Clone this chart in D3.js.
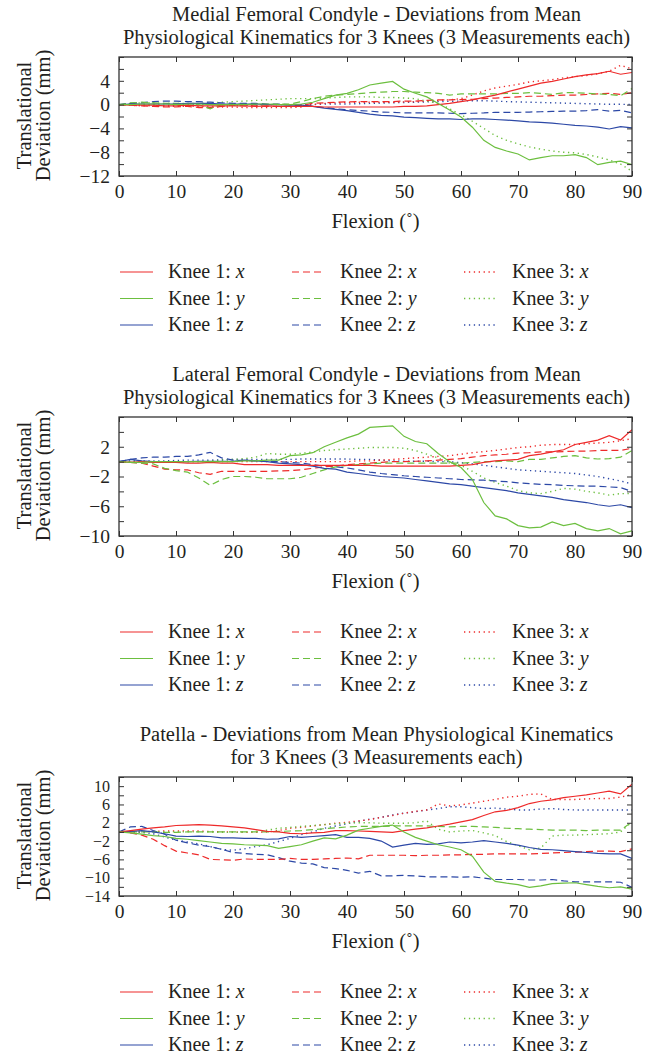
<!DOCTYPE html>
<html>
<head>
<meta charset="utf-8">
<script src="https://cdn.jsdelivr.net/npm/d3@7"></script>
<style>
  body { margin: 0; background: #fff; }
  text { font-family: "Liberation Serif", "Times New Roman", serif; fill: #231f20; }
</style>
</head>
<body>
<div id="chart"></div>
<script>
var flexion = [0, 2, 4, 6, 8, 10, 12, 14, 16, 18, 20, 22, 24, 26, 28, 30, 32, 34, 36, 38,
  40, 42, 44, 46, 48, 50, 52, 54, 56, 58, 60, 62, 64, 66, 68, 70, 72, 74, 76, 78,
  80, 82, 84, 86, 88, 90];

// ---- Medial femoral condyle ----
var medK1x = [0, -0.1, -0.1, -0.1, -0.2, -0.2, -0.1, -0.2, -0.2, -0.2,
  -0.2, -0.2, -0.3, -0.2, -0.3, -0.3, -0.3, -0.3, -0.4, -0.4,
  -0.4, -0.4, -0.4, -0.4, -0.4, -0.3, -0.3, -0.2, 0, 0.2,
  0.5, 0.8, 1.2, 1.6, 2.1, 2.6, 3.1, 3.6, 3.9, 4.3,
  4.7, 5.0, 5.2, 5.6, 5.1, 5.4];
var medK2x = [0, -0.1, -0.2, -0.3, -0.4, -0.4, -0.3, -0.5, -0.5, -0.3,
  -0.1, -0.2, -0.2, -0.3, -0.3, -0.3, -0.1, 0.2, 0.3, 0.4,
  0.45, 0.5, 0.5, 0.5, 0.5, 0.6, 0.6, 0.7, 0.8, 0.8,
  0.85, 0.9, 1.0, 1.1, 1.2, 1.3, 1.4, 1.4, 1.5, 1.6,
  1.6, 1.7, 1.8, 1.9, 1.7, 2.0];
var medK3x = [0, -0.1, -0.2, -0.2, -0.3, -0.3, -0.3, -0.3, -0.4, -0.4,
  -0.4, -0.5, -0.5, -0.5, -0.5, -0.5, -0.4, 0, 0.2, 0.3,
  0.35, 0.4, 0.4, 0.4, 0.4, 0.45, 0.5, 0.6, 0.7, 0.8,
  1.0, 1.6, 2.3, 2.8, 3.1, 3.4, 3.8, 4.0, 4.2, 4.5,
  4.7, 4.9, 5.2, 5.6, 6.6, 6.0];
var medK1y = [0, 0, 0.1, 0.1, 0.1, 0, 0.1, 0.1, 0, 0,
  0, 0, 0.1, 0.1, 0, 0, 0.1, 0.4, 1.0, 1.6,
  1.9, 2.5, 3.3, 3.6, 3.9, 2.6, 1.9, 1.3, 0.2, -0.9,
  -2.1, -3.8, -6.0, -7.2, -7.8, -8.3, -9.3, -8.9, -8.6, -8.6,
  -8.4, -8.9, -10.1, -9.7, -9.5, -10.1];
var medK2y = [0, 0.3, 0.4, 0.3, 0.2, 0.2, 0.1, 0, -0.7, 0,
  0.1, 0.1, 0, 0, 0.1, 0.1, 0.5, 1.0, 1.4, 1.6,
  1.7, 1.85, 2.0, 2.1, 2.2, 2.2, 2.1, 2.0, 1.9, 1.6,
  1.8, 1.8, 1.8, 1.8, 1.9, 1.9, 2.0, 1.9, 1.7, 2.0,
  2.0, 1.9, 1.8, 1.7, 1.5, 2.7];
var medK3y = [0, 0.2, 0.3, 0.3, 0.2, 0.2, 0.2, 0.2, 0.3, 0.4,
  0.5, 0.6, 0.7, 0.8, 0.9, 1.0, 1.0, 1.0, 1.1, 1.2,
  1.3, 1.3, 1.3, 1.2, 1.2, 1.1, 1.0, 0.6, 0.2, -0.7,
  -1.7, -2.8, -4.0, -5.2, -6.0, -6.6, -7.1, -7.5, -7.8, -8.0,
  -8.1, -8.4, -8.8, -9.3, -10.0, -11.2];
var medK1z = [0, 0.1, 0.1, 0.1, 0.1, 0.1, 0.2, 0.2, 0.2, 0.1,
  0.1, 0.1, 0.1, 0, 0, -0.1, -0.1, -0.3, -0.6, -0.8,
  -1.0, -1.3, -1.6, -1.8, -1.9, -2.1, -2.2, -2.3, -2.4, -2.4,
  -2.5, -2.4, -2.4, -2.5, -2.6, -2.75, -2.9, -3.0, -3.1, -3.3,
  -3.5, -3.6, -3.8, -4.1, -3.7, -3.9];
var medK2z = [0, 0.2, 0.3, 0.5, 0.6, 0.6, 0.5, 0.5, 0.4, 0.3,
  0.2, 0.2, 0.2, 0.1, 0.1, 0, -0.1, -0.3, -0.5, -0.7,
  -0.85, -1.0, -1.1, -1.25, -1.3, -1.4, -1.4, -1.4, -1.4, -1.45,
  -1.5, -1.45, -1.4, -1.3, -1.3, -1.3, -1.25, -1.2, -1.15, -1.1,
  -1.1, -1.0, -0.85, -1.1, -0.95, -1.4];
var medK3z = [0, 0, 0, 0, -0.1, -0.1, 0, 0, 0, 0,
  -0.1, -0.1, -0.1, 0, 0, 0, 0, 0, 0.1, 0.1,
  0.1, 0.15, 0.2, 0.25, 0.3, 0.35, 0.4, 0.45, 0.5, 0.55,
  0.6, 0.65, 0.65, 0.6, 0.5, 0.45, 0.4, 0.35, 0.3, 0.25,
  0.2, 0.15, 0.1, 0.05, 0.05, 0];

// ---- Lateral femoral condyle ----
var latK1x = [0, -0.1, 0, -0.1, -0.1, -0.1, -0.2, -0.2, -0.1, -0.2,
  -0.2, -0.4, -0.4, -0.4, -0.5, -0.5, -0.5, -0.5, -0.5, -0.5,
  -0.5, -0.5, -0.5, -0.6, -0.6, -0.6, -0.6, -0.6, -0.6, -0.6,
  -0.5, -0.4, -0.1, 0.1, 0.2, 0.3, 0.8, 1.0, 1.3, 1.6,
  2.3, 2.6, 2.9, 3.5, 2.9, 4.3];
var latK2x = [0, -0.1, -0.2, -0.6, -1.0, -1.1, -1.1, -1.5, -1.7, -1.3,
  -1.3, -1.3, -1.3, -1.3, -1.25, -1.2, -1.1, -0.9, -0.7, -0.6,
  -0.4, -0.3, -0.2, -0.1, 0, 0, 0.05, 0.1, 0.2, 0.3,
  0.4, 0.6, 0.8, 0.9, 1.0, 1.15, 1.2, 1.3, 1.3, 1.35,
  1.4, 1.4, 1.5, 1.5, 1.5, 1.8];
var latK3x = [0, 0, 0, -0.1, -0.1, 0, 0, 0, 0, 0,
  0, 0, 0, 0, 0, 0, 0, 0, 0, 0,
  0, 0.1, 0.1, 0.2, 0.3, 0.4, 0.5, 0.6, 0.7, 0.8,
  1.0, 1.2, 1.35, 1.5, 1.7, 1.9, 2.0, 2.2, 2.3, 2.3,
  2.3, 2.4, 2.5, 2.6, 2.8, 3.1];
var latK1y = [0, -0.1, -0.1, 0, 0, 0, 0, 0, 0, 0,
  0, 0.1, 0.1, 0.2, 0.2, 0.8, 0.9, 1.2, 2.0, 2.6,
  3.2, 3.7, 4.6, 4.7, 4.8, 3.4, 2.7, 2.4, 1.1, 0,
  -0.8, -2.4, -5.5, -7.3, -7.7, -8.6, -8.9, -8.8, -8.1, -8.6,
  -8.3, -9.0, -9.3, -9.0, -9.7, -9.3];
var latK2y = [0, -0.1, -0.2, -0.3, -0.9, -1.2, -1.4, -2.2, -3.2, -2.4,
  -2.0, -2.0, -2.1, -2.3, -2.3, -2.3, -2.1, -1.6, -1.1, -0.7,
  -0.5, -0.4, -0.3, -0.2, -0.2, -0.2, -0.2, -0.2, -0.2, -0.2,
  -0.2, -0.1, 0, 0, 0.1, 0, 0.3, 0.3, 0.5, 0.7,
  0.8, 0.5, 0.35, 0.4, 0.6, 1.5];
var latK3y = [0, 0, 0, 0, 0, 0, 0, 0, 0.1, 0.2,
  0.3, 0.4, 0.6, 1.1, 1.0, 1.0, 1.1, 1.3, 1.5, 1.6,
  1.7, 1.8, 1.9, 1.9, 1.9, 1.8, 1.5, 1.0, 0.5, -0.2,
  -0.5, -1.3, -2.2, -2.8, -3.3, -3.9, -4.2, -4.3, -4.0, -3.6,
  -3.7, -4.0, -4.2, -4.5, -4.3, -4.3];
var latK1z = [0, 0.3, 0.1, 0, 0, 0, 0, 0.05, 0.05, 0.05,
  0.05, 0.2, 0.1, 0, -0.2, -0.3, -0.4, -0.6, -0.9, -1.0,
  -1.4, -1.6, -1.8, -2.0, -2.1, -2.2, -2.4, -2.6, -2.8, -3.0,
  -3.1, -3.3, -3.5, -3.7, -3.9, -4.2, -4.4, -4.6, -4.8, -5.1,
  -5.3, -5.5, -5.8, -6.0, -5.8, -6.2];
var latK2z = [0, 0.3, 0.5, 0.6, 0.6, 0.7, 0.7, 0.9, 1.25, 0.5,
  0.2, 0.15, 0.1, 0.05, 0, -0.1, -0.2, -0.4, -0.6, -0.7,
  -0.85, -1.1, -1.4, -1.6, -1.75, -1.9, -2.0, -2.1, -2.2, -2.3,
  -2.4, -2.45, -2.5, -2.6, -2.7, -2.85, -2.95, -3.05, -3.1, -3.2,
  -3.25, -3.3, -3.3, -3.4, -3.5, -4.0];
var latK3z = [0, 0.1, 0.1, 0.1, 0.1, 0.15, 0.2, 0.2, 0.2, 0.25,
  0.3, 0.3, 0.3, 0.3, 0.3, 0.3, 0.35, 0.35, 0.35, 0.35,
  0.35, 0.3, 0.3, 0.2, 0.1, 0.05, 0.05, 0.05, 0, 0,
  -0.15, -0.3, -0.5, -0.7, -0.9, -1.1, -1.2, -1.3, -1.4, -1.5,
  -1.6, -1.8, -2.0, -2.3, -2.6, -3.0];

// ---- Patella ----
var patK1x = [0, 0.3, 0.6, 0.9, 1.1, 1.4, 1.5, 1.6, 1.5, 1.3,
  1.1, 0.9, 0.5, 0.1, 0, -0.3, -0.4, -0.2, -0.1, 0.3,
  0.3, 0.2, 0.1, 0, -0.1, 0.3, 0.6, 0.9, 1.3, 1.7,
  2.2, 2.7, 3.6, 4.4, 4.7, 5.3, 6.2, 6.7, 7.0, 7.5,
  7.8, 8.1, 8.5, 8.9, 8.3, 10.4];
var patK2x = [0, -0.2, -0.7, -1.6, -3.0, -4.2, -4.6, -5.0, -6.0, -6.1,
  -6.2, -5.9, -6.0, -6.0, -6.0, -5.8, -6.0, -6.0, -5.9, -5.8,
  -5.7, -5.9, -5.1, -5.1, -5.1, -5.1, -5.2, -5.1, -5.1, -5.0,
  -5.0, -4.9, -4.9, -4.8, -4.8, -4.8, -4.8, -4.7, -4.6, -4.5,
  -4.4, -4.3, -4.2, -4.2, -4.3, -3.7];
var patK3x = [0, 0, 0.1, 0.1, 0.2, 0.2, 0.2, 0.2, 0.1, 0,
  0, -0.1, -0.1, 0, 0.3, 0.8, 1.0, 1.3, 1.6, 1.9,
  2.1, 2.4, 2.7, 3.2, 3.6, 4.1, 4.5, 4.8, 6.1, 5.7,
  5.9, 6.3, 6.7, 7.1, 7.6, 7.8, 8.2, 8.3, 7.1, 7.1,
  7.1, 7.2, 7.3, 7.3, 7.6, 8.2];
var patK1y = [0, -0.2, -0.5, -0.8, -1.0, -1.4, -1.6, -1.9, -2.2, -2.5,
  -2.6, -2.8, -2.9, -3.0, -3.6, -3.2, -2.8, -2.0, -1.3, -1.5,
  -0.7, 0.4, 0.8, 1.2, 1.5, 0, -1.2, -2.0, -2.8, -3.3,
  -3.9, -5.3, -8.8, -10.8, -11.2, -11.5, -12.1, -11.8, -11.3, -11.2,
  -11.1, -11.5, -11.9, -12.2, -12.0, -12.5];
var patK2y = [0, 0, 0, 0, -0.1, -0.1, 0, 0, 0, 0,
  0, 0, 0, 0, 0.1, 0.2, 0.3, 0.5, 0.7, 0.9,
  1.1, 1.2, 1.2, 1.2, 1.3, 1.3, 1.3, 1.3, 1.2, 1.1,
  1.2, 1.2, 1.1, 1.0, 0.8, 0.7, 0.6, 0.5, 0.4, 0.4,
  0.4, 0.3, 0.4, 0.4, 0.4, 2.2];
var patK3y = [0, 0, 0, 0, 0, 0, 0, 0, 0, -0.1,
  -0.1, 0, 0.1, 0.4, 0.8, 1.0, 1.2, 1.4, 1.6, 1.8,
  1.9, 2.0, 2.0, 1.9, 1.9, 1.9, 2.0, 2.4, 0.6, 0,
  0.2, 0.3, -0.2, -0.8, -2.1, -3.0, -3.9, -3.5, -0.9, -0.7,
  -0.7, -0.6, -0.5, -0.4, 0, 2.2];
var patK1z = [0, 0.1, 0.3, 0, -0.4, -0.9, -1.0, -0.9, -1.0, -1.3,
  -1.3, -1.4, -1.4, -1.6, -1.5, -1.0, -1.2, -1.0, -0.8, -0.6,
  -1.2, -1.2, -1.4, -2.0, -3.3, -2.9, -2.5, -2.7, -2.6, -2.2,
  -2.4, -2.2, -1.9, -2.2, -2.5, -2.9, -3.4, -3.8, -3.9, -4.1,
  -4.3, -4.5, -4.7, -4.8, -4.8, -5.8];
var patK2z = [0, 1.1, 1.2, 0.3, -0.5, -1.8, -2.4, -2.9, -3.2, -3.8,
  -4.5, -4.7, -4.9, -5.0, -5.6, -6.4, -6.8, -7.0, -7.8, -8.0,
  -8.4, -9.0, -8.6, -9.6, -9.6, -9.5, -9.6, -9.8, -9.8, -9.8,
  -9.9, -9.8, -10.1, -10.4, -10.4, -10.4, -10.5, -10.5, -10.4, -10.7,
  -10.9, -10.9, -10.9, -10.9, -11.0, -12.1];
var patK3z = [0, 0, -0.1, -0.4, -1.1, -1.8, -2.2, -2.6, -3.2, -3.8,
  -4.0, -3.7, -3.2, -2.8, -2.1, -1.4, -0.6, 0, 0.8, 1.3,
  1.8, 2.3, 2.8, 3.2, 3.7, 4.1, 4.4, 4.8, 5.1, 5.5,
  5.5, 5.3, 5.1, 5.2, 5.0, 4.8, 4.8, 5.0, 5.1, 4.9,
  4.8, 4.8, 4.8, 4.8, 4.8, 4.8];

// titles, axes
var medTitle = ["Medial Femoral Condyle - Deviations from Mean",
  "Physiological Kinematics for 3 Knees (3 Measurements each)"];
var latTitle = ["Lateral Femoral Condyle - Deviations from Mean",
  "Physiological Kinematics for 3 Knees (3 Measurements each)"];
var patTitle = ["Patella - Deviations from Mean Physiological Kinematics",
  "for 3 Knees (3 Measurements each)"];

var xTicks = [0, 10, 20, 30, 40, 50, 60, 70, 80, 90];
var medYDomain = [-12, 8];
var medYTicks = [-12, -10, -8, -6, -4, -2, 0, 2, 4, 6, 8];
var medYLabels = [-12, -8, -4, 0, 4];
var latYDomain = [-10, 6];
var latYTicks = [-10, -8, -6, -4, -2, 0, 2, 4, 6];
var latYLabels = [-10, -6, -2, 2];
var patYDomain = [-14, 12];
var patYTicks = [-14, -12, -10, -8, -6, -4, -2, 0, 2, 4, 6, 8, 10, 12];
var patYLabels = [-14, -10, -6, -2, 2, 6, 10];

var knees = ["Knee 1", "Knee 2", "Knee 3"];
var axesNames = ["x", "y", "z"];
var axisColors = ["#ee2a2a", "#6cbf3f", "#2c48a6"];
var kneeDash = ["none", "7,4", "1.3,3.6"];

// build the per-panel config from the arrays above
var panels = [
  {title: medTitle, dom: medYDomain, ticks: medYTicks, labels: medYLabels, yFont: 19.5,
   series: [[medK1x, medK1y, medK1z], [medK2x, medK2y, medK2z], [medK3x, medK3y, medK3z]]},
  {title: latTitle, dom: latYDomain, ticks: latYTicks, labels: latYLabels, yFont: 19.5,
   series: [[latK1x, latK1y, latK1z], [latK2x, latK2y, latK2z], [latK3x, latK3y, latK3z]]},
  {title: patTitle, dom: patYDomain, ticks: patYTicks, labels: patYLabels, yFont: 16,
   series: [[patK1x, patK1y, patK1z], [patK2x, patK2y, patK2z], [patK3x, patK3y, patK3z]]}
];

var width = 653, height = 1055;
var left = 119, right = 632, plotH = 119;
var panelTops = [57, 417, 777];

var svg = d3.select("#chart")
  .append("svg")
  .attr("width", width)
  .attr("height", height);

var x = d3.scaleLinear().domain([0, 90]).range([left, right]);
var fmt = d3.format("d");

function drawPanel(p, idx) {
  var top = panelTops[idx];
  var bottom = top + plotH;
  var cx = (left + right) / 2;
  var g = svg.append("g");

  var y = d3.scaleLinear().domain(p.dom).range([bottom, top]);

  // Title
  p.title.forEach(function(t, i) {
    g.append("text")
      .attr("x", cx + 1)
      .attr("y", top - 36 + i * 23)
      .attr("text-anchor", "middle")
      .style("font-size", "20.5px")
      .text(t);
  });

  // clip
  g.append("clipPath")
    .attr("id", "clip" + idx)
    .append("rect")
    .attr("x", left).attr("y", top)
    .attr("width", right - left).attr("height", plotH);

  var line = d3.line()
    .x(function(d) { return x(d[0]); })
    .y(function(d) { return y(d[1]); });

  var lines = g.append("g").attr("clip-path", "url(#clip" + idx + ")");
  // draw knee 3, then 2, then 1 so solid lines sit on top
  [2, 1, 0].forEach(function(k) {
    [2, 0, 1].forEach(function(a) {
      var vals = p.series[k][a];
      var pts = flexion.map(function(f, i) { return [f, vals[i]]; });
      lines.append("path")
        .datum(pts)
        .attr("fill", "none")
        .attr("stroke", axisColors[a])
        .attr("stroke-width", k == 2 ? 1.4 : 1.2)
        .attr("stroke-dasharray", kneeDash[k])
        .attr("d", line);
    });
  });

  // axes, ticks pointing inward
  var xb = g.append("g")
    .attr("transform", "translate(0," + bottom + ")")
    .call(d3.axisBottom(x).tickValues(xTicks).tickSize(-5).tickPadding(8).tickFormat(fmt));
  g.append("g")
    .attr("transform", "translate(0," + top + ")")
    .call(d3.axisTop(x).tickValues(xTicks).tickSize(-5).tickFormat(""));
  var yl = g.append("g")
    .attr("transform", "translate(" + left + ",0)")
    .call(d3.axisLeft(y).tickValues(p.ticks).tickSize(-5).tickPadding(9)
      .tickFormat(function(d) { return p.labels.indexOf(d) >= 0 ? fmt(d) : ""; }));
  g.append("g")
    .attr("transform", "translate(" + right + ",0)")
    .call(d3.axisRight(y).tickValues(p.ticks).tickSize(-5).tickFormat(""));

  g.selectAll(".domain").remove();
  g.selectAll(".tick line").attr("stroke", "#333").attr("stroke-width", 1);
  g.selectAll(".tick text")
    .style("font-family", "'Liberation Serif', serif")
    .attr("fill", "#231f20");
  xb.selectAll(".tick text").style("font-size", "19.5px");
  yl.selectAll(".tick text").style("font-size", p.yFont + "px");

  // frame
  g.append("rect")
    .attr("x", left).attr("y", top)
    .attr("width", right - left).attr("height", plotH)
    .attr("fill", "none")
    .attr("stroke", "#333")
    .attr("stroke-width", 1.3);

  // axis titles
  g.append("text")
    .attr("x", cx)
    .attr("y", bottom + 52)
    .attr("text-anchor", "middle")
    .style("font-size", "20.5px")
    .text("Flexion (\u02da)");

  var midY = (top + bottom) / 2 - 1;
  g.append("text")
    .attr("transform", "translate(31," + midY + ")rotate(-90)")
    .attr("text-anchor", "middle")
    .style("font-size", "20.5px")
    .text("Translational");
  g.append("text")
    .attr("transform", "translate(50," + midY + ")rotate(-90)")
    .attr("text-anchor", "middle")
    .style("font-size", "20.5px")
    .text("Deviation (mm)");

  // legend: columns = knees, rows = x/y/z
  var legend = g.append("g").attr("class", "legend");
  knees.forEach(function(kn, k) {
    axesNames.forEach(function(an, a) {
      var lx = 120 + k * 172;
      var ly = bottom + 96 + a * 26.5;
      legend.append("line")
        .attr("x1", lx).attr("x2", lx + 33)
        .attr("y1", ly).attr("y2", ly)
        .attr("stroke", axisColors[a])
        .attr("stroke-width", k == 2 ? 1.4 : 1.2)
        .attr("stroke-dasharray", kneeDash[k]);
      var t = legend.append("text")
        .attr("x", lx + 48)
        .attr("y", ly + 6)
        .style("font-size", "20px");
      t.append("tspan").text(kn + ": ");
      t.append("tspan").style("font-style", "italic").text(an);
    });
  });
}

panels.forEach(drawPanel);
</script>
</body>
</html>
